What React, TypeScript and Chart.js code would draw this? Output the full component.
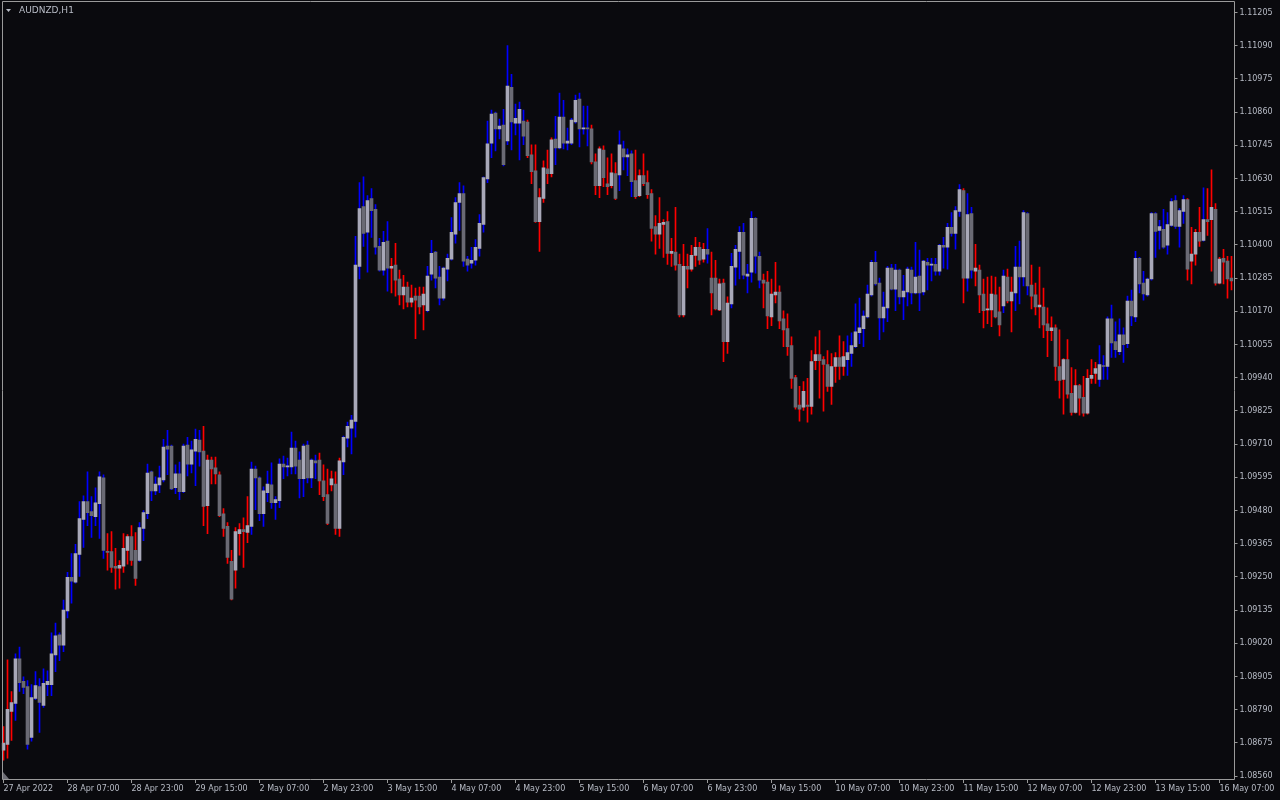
import { useEffect, useRef } from "react";
import { Chart, registerables } from "chart.js";

Chart.register(...registerables);

const chartTitle = "AUDNZD,H1";
const firstTickLabel = "27 Apr 2022";
const tickEvery = 16;

// trading sessions (day, first hour, last hour) — one H1 candle per hour
const sessions: [string, number, number][] = [
  ["27 Apr", 15, 23], ["28 Apr", 0, 23], ["29 Apr", 0, 23], ["2 May", 0, 23],
  ["3 May", 0, 23], ["4 May", 0, 23], ["5 May", 0, 23], ["6 May", 0, 23],
  ["9 May", 0, 23], ["10 May", 0, 23], ["11 May", 0, 23], ["12 May", 0, 23],
  ["13 May", 0, 23], ["16 May", 0, 10],
];

const priceTicks = [
  1.0856, 1.08675, 1.0879, 1.08905, 1.0902, 1.09135, 1.0925, 1.09365, 1.0948, 1.09595, 1.0971, 1.09825,
  1.0994, 1.10055, 1.1017, 1.10285, 1.104, 1.10515, 1.1063, 1.10745, 1.1086, 1.10975, 1.1109, 1.11205,
];

const opens = [
  1.08650, 1.08670, 1.08784, 1.08812, 1.08966, 1.08888, 1.08870, 1.08694, 1.08829, 1.08870,
  1.08805, 1.08877, 1.08877, 1.08980, 1.09049, 1.09014, 1.09132, 1.09249, 1.09232, 1.09328,
  1.09449, 1.09511, 1.09476, 1.09459, 1.09504, 1.09593, 1.09338, 1.09338, 1.09287, 1.09280,
  1.09287, 1.09342, 1.09390, 1.09342, 1.09307, 1.09418, 1.09469, 1.09614, 1.09548, 1.09569,
  1.09586, 1.09703, 1.09703, 1.09559, 1.09607, 1.09545, 1.09707, 1.09641, 1.09686, 1.09724,
  1.09686, 1.09497, 1.09655, 1.09628, 1.09604, 1.09469, 1.09425, 1.09304, 1.09273, 1.09400,
  1.09414, 1.09404, 1.09425, 1.09624, 1.09593, 1.09469, 1.09542, 1.09569, 1.09507, 1.09514,
  1.09641, 1.09631, 1.09631, 1.09696, 1.09655, 1.09590, 1.09707, 1.09593, 1.09652, 1.09655,
  1.09583, 1.09535, 1.09569, 1.09572, 1.09418, 1.09648, 1.09731, 1.09765, 1.09789, 1.10326,
  1.10533, 1.10444, 1.10561, 1.10523, 1.10395, 1.10313, 1.10413, 1.10320, 1.10330, 1.10282,
  1.10227, 1.10254, 1.10202, 1.10223, 1.10223, 1.10192, 1.10172, 1.10299, 1.10375, 1.10289,
  1.10216, 1.10316, 1.10351, 1.10437, 1.10547, 1.10578, 1.10351, 1.10337, 1.10347, 1.10388,
  1.10471, 1.10629, 1.10753, 1.10857, 1.10802, 1.10815, 1.10760, 1.10946, 1.10822, 1.10822,
  1.10829, 1.10826, 1.10712, 1.10657, 1.10481, 1.10561, 1.10664, 1.10647, 1.10767, 1.10736,
  1.10843, 1.10753, 1.10753, 1.10826, 1.10905, 1.10802, 1.10805, 1.10802, 1.10688, 1.10605,
  1.10729, 1.10612, 1.10605, 1.10647, 1.10643, 1.10733, 1.10705, 1.10716, 1.10623, 1.10571,
  1.10640, 1.10616, 1.10578, 1.10464, 1.10437, 1.10471, 1.10481, 1.10371, 1.10375, 1.10333,
  1.10158, 1.10326, 1.10316, 1.10364, 1.10392, 1.10351, 1.10385, 1.10285, 1.10285, 1.10175,
  1.10268, 1.10065, 1.10196, 1.10323, 1.10378, 1.10444, 1.10292, 1.10306, 1.10492, 1.10361,
  1.10278, 1.10271, 1.10151, 1.10227, 1.10237, 1.10144, 1.10110, 1.10051, 1.09941, 1.09845,
  1.09838, 1.09845, 1.09841, 1.09999, 1.10020, 1.10003, 1.09986, 1.09910, 1.09979, 1.10010,
  1.09979, 1.10003, 1.10024, 1.10048, 1.10096, 1.10110, 1.10151, 1.10227, 1.10340, 1.10268,
  1.10147, 1.10182, 1.10320, 1.10247, 1.10313, 1.10220, 1.10237, 1.10313, 1.10234, 1.10292,
  1.10237, 1.10340, 1.10330, 1.10333, 1.10309, 1.10399, 1.10392, 1.10461, 1.10440, 1.10516,
  1.10588, 1.10285, 1.10509, 1.10309, 1.10313, 1.10230, 1.10175, 1.10175, 1.10227, 1.10168,
  1.10189, 1.10289, 1.10206, 1.10234, 1.10323, 1.10289, 1.10509, 1.10261, 1.10227, 1.10185,
  1.10185, 1.10127, 1.10103, 1.10113, 1.09979, 1.09934, 1.10003, 1.09886, 1.09820, 1.09913,
  1.09872, 1.09817, 1.09938, 1.09955, 1.09934, 1.09982, 1.09979, 1.10144, 1.10065, 1.10030,
  1.10089, 1.10058, 1.10206, 1.10151, 1.10354, 1.10268, 1.10227, 1.10282, 1.10509, 1.10450,
  1.10454, 1.10399, 1.10468, 1.10554, 1.10464, 1.10516, 1.10557, 1.10344, 1.10368, 1.10444,
  1.10416, 1.10488, 1.10488, 1.10523, 1.10268, 1.10354, 1.10344, 1.10285,
];

const highs = [
  1.08732, 1.08963, 1.08853, 1.08984, 1.09007, 1.08904, 1.08891, 1.08877, 1.08922, 1.08898,
  1.08932, 1.08925, 1.09056, 1.09090, 1.09056, 1.09170, 1.09266, 1.09331, 1.09363, 1.09511,
  1.09531, 1.09614, 1.09528, 1.09559, 1.09614, 1.09604, 1.09400, 1.09407, 1.09349, 1.09307,
  1.09400, 1.09397, 1.09428, 1.09404, 1.09438, 1.09480, 1.09641, 1.09617, 1.09597, 1.09634,
  1.09727, 1.09758, 1.09707, 1.09638, 1.09648, 1.09710, 1.09734, 1.09721, 1.09762, 1.09758,
  1.09772, 1.09672, 1.09665, 1.09665, 1.09614, 1.09487, 1.09438, 1.09342, 1.09421, 1.09435,
  1.09455, 1.09528, 1.09648, 1.09634, 1.09597, 1.09562, 1.09617, 1.09645, 1.09528, 1.09659,
  1.09669, 1.09662, 1.09752, 1.09721, 1.09683, 1.09710, 1.09721, 1.09659, 1.09672, 1.09679,
  1.09638, 1.09624, 1.09617, 1.09614, 1.09662, 1.09738, 1.09786, 1.09810, 1.10430, 1.10616,
  1.10636, 1.10571, 1.10595, 1.10540, 1.10423, 1.10447, 1.10481, 1.10354, 1.10406, 1.10313,
  1.10295, 1.10271, 1.10261, 1.10251, 1.10254, 1.10254, 1.10326, 1.10416, 1.10378, 1.10326,
  1.10323, 1.10368, 1.10495, 1.10564, 1.10616, 1.10605, 1.10361, 1.10392, 1.10419, 1.10505,
  1.10636, 1.10829, 1.10867, 1.10860, 1.10836, 1.10870, 1.11091, 1.10991, 1.10888, 1.10895,
  1.10867, 1.10833, 1.10747, 1.10747, 1.10595, 1.10691, 1.10729, 1.10771, 1.10846, 1.10926,
  1.10901, 1.10805, 1.10839, 1.10919, 1.10926, 1.10881, 1.10881, 1.10815, 1.10716, 1.10740,
  1.10743, 1.10702, 1.10716, 1.10685, 1.10795, 1.10760, 1.10733, 1.10726, 1.10729, 1.10660,
  1.10716, 1.10657, 1.10592, 1.10502, 1.10564, 1.10488, 1.10516, 1.10423, 1.10530, 1.10368,
  1.10402, 1.10368, 1.10399, 1.10426, 1.10409, 1.10406, 1.10457, 1.10375, 1.10347, 1.10282,
  1.10282, 1.10220, 1.10371, 1.10399, 1.10464, 1.10475, 1.10333, 1.10516, 1.10495, 1.10375,
  1.10299, 1.10309, 1.10282, 1.10340, 1.10258, 1.10172, 1.10161, 1.10082, 1.09948, 1.09910,
  1.09927, 1.09938, 1.10034, 1.10082, 1.10103, 1.10013, 1.10034, 1.10024, 1.10027, 1.10085,
  1.10065, 1.10085, 1.10096, 1.10196, 1.10216, 1.10172, 1.10261, 1.10347, 1.10378, 1.10285,
  1.10237, 1.10326, 1.10333, 1.10333, 1.10316, 1.10295, 1.10323, 1.10323, 1.10409, 1.10382,
  1.10347, 1.10354, 1.10354, 1.10354, 1.10402, 1.10426, 1.10475, 1.10512, 1.10533, 1.10609,
  1.10595, 1.10578, 1.10530, 1.10402, 1.10330, 1.10282, 1.10289, 1.10292, 1.10289, 1.10254,
  1.10313, 1.10316, 1.10289, 1.10395, 1.10413, 1.10519, 1.10512, 1.10330, 1.10268, 1.10323,
  1.10251, 1.10182, 1.10151, 1.10123, 1.10106, 1.10006, 1.10072, 1.09975, 1.09968, 1.09917,
  1.09945, 1.09968, 1.10003, 1.09993, 1.10051, 1.10017, 1.10151, 1.10192, 1.10134, 1.10144,
  1.10113, 1.10223, 1.10244, 1.10378, 1.10357, 1.10309, 1.10285, 1.10512, 1.10512, 1.10485,
  1.10523, 1.10512, 1.10561, 1.10571, 1.10526, 1.10571, 1.10561, 1.10461, 1.10454, 1.10530,
  1.10598, 1.10595, 1.10660, 1.10543, 1.10357, 1.10385, 1.10361, 1.10361,
];

const lows = [
  1.08615, 1.08622, 1.08684, 1.08753, 1.08853, 1.08846, 1.08653, 1.08681, 1.08825, 1.08711,
  1.08798, 1.08839, 1.08839, 1.08922, 1.08960, 1.08991, 1.09108, 1.09159, 1.09228, 1.09252,
  1.09352, 1.09428, 1.09387, 1.09428, 1.09383, 1.09314, 1.09273, 1.09266, 1.09208, 1.09211,
  1.09266, 1.09294, 1.09290, 1.09221, 1.09304, 1.09376, 1.09452, 1.09514, 1.09535, 1.09542,
  1.09579, 1.09604, 1.09552, 1.09538, 1.09518, 1.09542, 1.09600, 1.09610, 1.09566, 1.09634,
  1.09428, 1.09400, 1.09572, 1.09572, 1.09459, 1.09390, 1.09297, 1.09170, 1.09211, 1.09325,
  1.09283, 1.09369, 1.09397, 1.09483, 1.09445, 1.09425, 1.09511, 1.09487, 1.09449, 1.09490,
  1.09590, 1.09600, 1.09607, 1.09607, 1.09524, 1.09528, 1.09576, 1.09559, 1.09590, 1.09535,
  1.09514, 1.09431, 1.09548, 1.09397, 1.09390, 1.09604, 1.09700, 1.09676, 1.09734, 1.10282,
  1.10395, 1.10306, 1.10426, 1.10368, 1.10309, 1.10295, 1.10240, 1.10234, 1.10223, 1.10192,
  1.10178, 1.10185, 1.10185, 1.10075, 1.10161, 1.10106, 1.10168, 1.10278, 1.10251, 1.10192,
  1.10209, 1.10275, 1.10347, 1.10406, 1.10450, 1.10326, 1.10309, 1.10320, 1.10330, 1.10361,
  1.10444, 1.10616, 1.10702, 1.10726, 1.10767, 1.10674, 1.10747, 1.10729, 1.10781, 1.10695,
  1.10747, 1.10702, 1.10612, 1.10478, 1.10378, 1.10547, 1.10612, 1.10636, 1.10678, 1.10733,
  1.10733, 1.10729, 1.10747, 1.10822, 1.10740, 1.10784, 1.10743, 1.10681, 1.10574, 1.10564,
  1.10602, 1.10574, 1.10598, 1.10557, 1.10588, 1.10660, 1.10640, 1.10567, 1.10561, 1.10567,
  1.10605, 1.10561, 1.10413, 1.10368, 1.10388, 1.10357, 1.10333, 1.10326, 1.10313, 1.10151,
  1.10151, 1.10251, 1.10309, 1.10326, 1.10333, 1.10340, 1.10337, 1.10158, 1.10175, 1.10172,
  1.09996, 1.10024, 1.10182, 1.10261, 1.10282, 1.10282, 1.10234, 1.10271, 1.10302, 1.10251,
  1.10182, 1.10110, 1.10120, 1.10199, 1.10110, 1.10048, 1.10017, 1.09903, 1.09831, 1.09790,
  1.09827, 1.09786, 1.09814, 1.09968, 1.09869, 1.09824, 1.09893, 1.09848, 1.09924, 1.09934,
  1.09948, 1.09948, 1.09979, 1.10044, 1.10058, 1.10048, 1.10147, 1.10223, 1.10261, 1.10072,
  1.10099, 1.10134, 1.10244, 1.10172, 1.10196, 1.10141, 1.10189, 1.10196, 1.10230, 1.10172,
  1.10227, 1.10244, 1.10275, 1.10295, 1.10295, 1.10320, 1.10316, 1.10430, 1.10385, 1.10499,
  1.10199, 1.10240, 1.10285, 1.10258, 1.10165, 1.10113, 1.10127, 1.10117, 1.10147, 1.10085,
  1.10165, 1.10199, 1.10099, 1.10172, 1.10196, 1.10258, 1.10227, 1.10178, 1.10158, 1.10113,
  1.10079, 1.10013, 1.10068, 1.09931, 1.09869, 1.09814, 1.09869, 1.09810, 1.09817, 1.09810,
  1.09807, 1.09814, 1.09920, 1.09920, 1.09910, 1.09934, 1.09934, 1.10010, 1.10010, 1.10020,
  1.09993, 1.10044, 1.10120, 1.10134, 1.10234, 1.10209, 1.10223, 1.10278, 1.10357, 1.10385,
  1.10388, 1.10368, 1.10464, 1.10457, 1.10392, 1.10475, 1.10278, 1.10265, 1.10330, 1.10395,
  1.10413, 1.10433, 1.10309, 1.10261, 1.10265, 1.10265, 1.10216, 1.10244,
];

const closes = [
  1.08674, 1.08791, 1.08815, 1.08966, 1.08884, 1.08867, 1.08670, 1.08832, 1.08874, 1.08815,
  1.08881, 1.08888, 1.08984, 1.09046, 1.09014, 1.09135, 1.09249, 1.09235, 1.09331, 1.09452,
  1.09511, 1.09473, 1.09462, 1.09507, 1.09597, 1.09342, 1.09335, 1.09283, 1.09280, 1.09290,
  1.09349, 1.09390, 1.09307, 1.09245, 1.09421, 1.09473, 1.09610, 1.09548, 1.09572, 1.09593,
  1.09700, 1.09693, 1.09555, 1.09607, 1.09545, 1.09703, 1.09641, 1.09690, 1.09727, 1.09683,
  1.09494, 1.09655, 1.09624, 1.09607, 1.09462, 1.09418, 1.09318, 1.09173, 1.09407, 1.09414,
  1.09407, 1.09428, 1.09624, 1.09593, 1.09469, 1.09548, 1.09572, 1.09507, 1.09518, 1.09641,
  1.09631, 1.09634, 1.09696, 1.09634, 1.09590, 1.09703, 1.09593, 1.09655, 1.09645, 1.09583,
  1.09528, 1.09435, 1.09590, 1.09418, 1.09652, 1.09734, 1.09772, 1.09793, 1.10330, 1.10526,
  1.10440, 1.10554, 1.10519, 1.10392, 1.10313, 1.10409, 1.10320, 1.10326, 1.10278, 1.10227,
  1.10254, 1.10202, 1.10216, 1.10209, 1.10185, 1.10230, 1.10292, 1.10371, 1.10285, 1.10216,
  1.10320, 1.10354, 1.10444, 1.10547, 1.10578, 1.10344, 1.10330, 1.10347, 1.10392, 1.10475,
  1.10633, 1.10750, 1.10853, 1.10802, 1.10812, 1.10678, 1.10950, 1.10826, 1.10839, 1.10870,
  1.10777, 1.10709, 1.10654, 1.10481, 1.10564, 1.10667, 1.10647, 1.10764, 1.10736, 1.10843,
  1.10753, 1.10760, 1.10833, 1.10901, 1.10802, 1.10805, 1.10802, 1.10688, 1.10605, 1.10733,
  1.10633, 1.10602, 1.10650, 1.10561, 1.10747, 1.10705, 1.10712, 1.10619, 1.10567, 1.10640,
  1.10612, 1.10574, 1.10457, 1.10437, 1.10475, 1.10478, 1.10371, 1.10378, 1.10330, 1.10158,
  1.10326, 1.10316, 1.10364, 1.10392, 1.10347, 1.10385, 1.10368, 1.10234, 1.10178, 1.10265,
  1.10065, 1.10199, 1.10326, 1.10385, 1.10444, 1.10295, 1.10299, 1.10492, 1.10361, 1.10278,
  1.10268, 1.10154, 1.10230, 1.10237, 1.10137, 1.10106, 1.10048, 1.09938, 1.09838, 1.09831,
  1.09893, 1.09841, 1.09996, 1.10020, 1.09999, 1.09986, 1.09910, 1.09979, 1.10010, 1.09979,
  1.10013, 1.10027, 1.10051, 1.10099, 1.10113, 1.10154, 1.10230, 1.10340, 1.10265, 1.10147,
  1.10185, 1.10320, 1.10247, 1.10313, 1.10220, 1.10240, 1.10316, 1.10234, 1.10289, 1.10234,
  1.10344, 1.10330, 1.10333, 1.10309, 1.10399, 1.10392, 1.10461, 1.10440, 1.10519, 1.10592,
  1.10285, 1.10505, 1.10313, 1.10320, 1.10227, 1.10172, 1.10178, 1.10230, 1.10151, 1.10123,
  1.10292, 1.10206, 1.10237, 1.10323, 1.10289, 1.10512, 1.10258, 1.10223, 1.10185, 1.10192,
  1.10123, 1.10103, 1.10113, 1.09979, 1.09931, 1.10003, 1.09883, 1.09820, 1.09913, 1.09869,
  1.09817, 1.09938, 1.09948, 1.09972, 1.09986, 1.09979, 1.10144, 1.10061, 1.10037, 1.10089,
  1.10055, 1.10206, 1.10154, 1.10354, 1.10265, 1.10230, 1.10282, 1.10509, 1.10447, 1.10464,
  1.10392, 1.10471, 1.10550, 1.10464, 1.10519, 1.10557, 1.10316, 1.10368, 1.10444, 1.10413,
  1.10488, 1.10481, 1.10530, 1.10268, 1.10351, 1.10340, 1.10282, 1.10275,
];

// indicator colouring of the high-low bars: "b" = blue, "r" = red, as runs of candles
const trendRuns: [string, number][] = [
  ["r", 3], ["b", 23], ["r", 8], ["b", 16], ["r", 12], ["b", 17], ["r", 6], ["b", 12],
  ["r", 9], ["b", 25], ["r", 7], ["b", 9], ["r", 7], ["b", 4], ["r", 18], ["b", 1],
  ["r", 5], ["b", 8], ["r", 21], ["b", 29], ["r", 1], ["b", 2], ["r", 7], ["b", 1],
  ["r", 2], ["b", 4], ["r", 17], ["b", 22], ["r", 4], ["b", 1], ["r", 7],
];

const BG = "#0a0a0e";
const FRAME = "#9a9a9a";
const TEXT = "#b8bcc6";
const WICK_BLUE = "#0000ff";
const WICK_RED = "#ff0000";
const BULL_BODY = "#a8a8b8";
const BEAR_BODY = "#6a6a74";
const FONT = "'DejaVu Sans', sans-serif";

function buildCategories(): string[] {
  const out: string[] = [];
  for (const [day, h0, h1] of sessions) {
    for (let h = h0; h <= h1; h++) out.push(`${day} ${String(h).padStart(2, "0")}:00`);
  }
  return out;
}

function buildTrend(): string[] {
  const out: string[] = [];
  for (const [c, n] of trendRuns) for (let k = 0; k < n; k++) out.push(c);
  return out;
}

const framePlugin = {
  id: "mtFrame",
  afterDraw(chart: any) {
    const ctx = chart.ctx as CanvasRenderingContext2D;
    const a = chart.chartArea;
    ctx.save();
    ctx.strokeStyle = FRAME;
    ctx.lineWidth = 1;
    ctx.beginPath();
    ctx.moveTo(Math.floor(a.left) + 1.5, 1.5);
    ctx.lineTo(Math.floor(a.right) + 1.5, 1.5);
    ctx.lineTo(Math.floor(a.right) + 1.5, Math.floor(a.bottom) + 0.5);
    ctx.lineTo(Math.floor(a.left) + 1.5, Math.floor(a.bottom) + 0.5);
    ctx.closePath();
    ctx.stroke();
    ctx.fillStyle = "#6e6e76";
    ctx.beginPath();
    ctx.moveTo(3, 772);
    ctx.lineTo(3, 779);
    ctx.lineTo(9, 779);
    ctx.closePath();
    ctx.fill();
    ctx.fillStyle = TEXT;
    ctx.beginPath();
    ctx.moveTo(6, 9);
    ctx.lineTo(11, 9);
    ctx.lineTo(8.5, 12);
    ctx.closePath();
    ctx.fill();
    ctx.font = `9px ${FONT}`;
    ctx.textBaseline = "middle";
    ctx.textAlign = "left";
    ctx.fillText(chartTitle, 19, 10.5);
    ctx.restore();
  },
};

export default function App() {
  const ref = useRef<HTMLCanvasElement>(null);

  useEffect(() => {
    document.body.style.margin = "0";
    document.body.style.background = BG;
    const canvas = ref.current;
    if (!canvas) return;
    const categories = buildCategories();
    const trend = buildTrend();
    const wickColors = trend.map((t) => (t === "b" ? WICK_BLUE : WICK_RED));
    const bodyColors = opens.map((o, i) => (closes[i] >= o ? BULL_BODY : BEAR_BODY));

    const chart = new Chart(canvas, {
      type: "bar",
      data: {
        labels: categories,
        datasets: [
          {
            label: "body",
            data: opens.map((o, i) => [o, closes[i]]),
            backgroundColor: bodyColors,
            barThickness: 3,
            minBarLength: 1,
            grouped: false,
            borderWidth: 0,
            order: 1,
          } as any,
          {
            label: "range",
            data: lows.map((l, i) => [l, highs[i]]),
            backgroundColor: wickColors,
            barThickness: 1,
            minBarLength: 1,
            grouped: false,
            borderWidth: 0,
            order: 2,
          } as any,
        ],
      },
      options: {
        responsive: false,
        animation: false,
        events: [],
        layout: { padding: { left: 1.5, top: 2, right: 0, bottom: 0 }, autoPadding: false } as any,
        plugins: {
          legend: { display: false },
          tooltip: { enabled: false },
          title: { display: false },
        },
        scales: {
          x: {
            type: "category",
            offset: true,
            border: { display: false },
            grid: {
              offset: false,
              drawOnChartArea: false,
              drawTicks: true,
              tickLength: 4,
              tickColor: FRAME,
              color: "transparent",
            },
            afterBuildTicks: (s: any) => {
              s.ticks = s.ticks.filter((t: any) => t.value % tickEvery === 0);
            },
            ticks: {
              autoSkip: false,
              maxRotation: 0,
              minRotation: 0,
              align: "start",
              padding: 1,
              color: TEXT,
              font: { family: FONT, size: 8 },
              callback: (v: any) => (Number(v) === 0 ? firstTickLabel : categories[Number(v)]),
            },
            afterFit: (s: any) => {
              s.height = 21;
            },
          } as any,
          y: {
            position: "right",
            min: 1.0855,
            max: 1.11225,
            border: { display: false },
            grid: {
              drawOnChartArea: false,
              drawTicks: true,
              tickLength: 4,
              tickColor: FRAME,
              color: "transparent",
            },
            afterBuildTicks: (s: any) => {
              s.ticks = priceTicks.map((v) => ({ value: v }));
            },
            ticks: {
              padding: 2,
              color: TEXT,
              font: { family: FONT, size: 8 },
              callback: (v: any) => Number(v).toFixed(5),
            },
            afterFit: (s: any) => {
              s.width = 46.5;
            },
          } as any,
        },
      },
      plugins: [framePlugin],
    });
    return () => chart.destroy();
  }, []);

  return (
    <div style={{ position: "fixed", left: 0, top: 0, width: 1280, height: 800, background: BG }}>
      <canvas ref={ref} width={1280} height={800} style={{ display: "block", width: 1280, height: 800 }} />
    </div>
  );
}
